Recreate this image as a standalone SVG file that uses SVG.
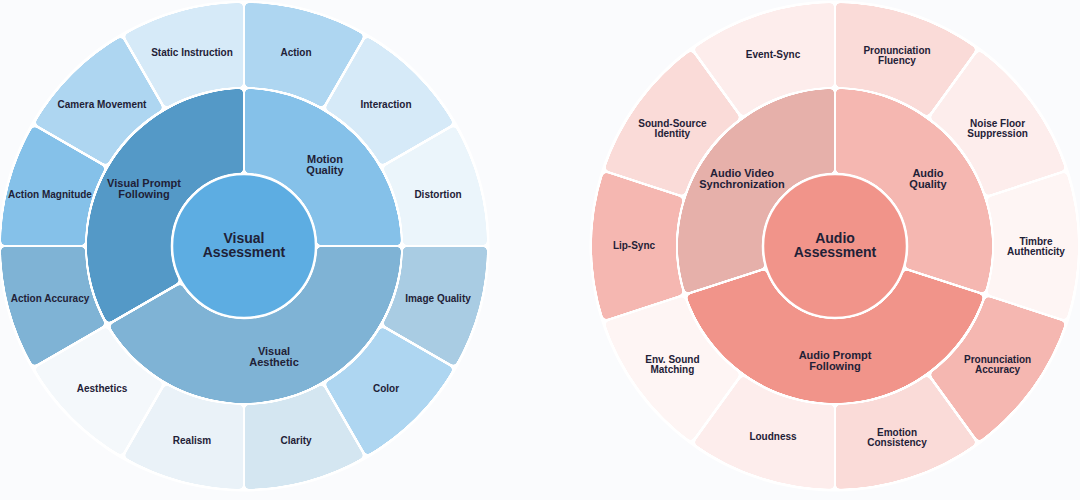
<svg xmlns="http://www.w3.org/2000/svg" width="1080" height="500" viewBox="0 0 1080 500">
<defs>
<filter id="rc" x="-10%" y="-10%" width="120%" height="120%" color-interpolation-filters="sRGB">
  <feMorphology in="SourceAlpha" operator="erode" radius="1.2" result="e"/>
  <feGaussianBlur in="e" stdDeviation="2.2" result="b"/>
  <feComponentTransfer in="b" result="t"><feFuncA type="linear" slope="12" intercept="-5.5"/></feComponentTransfer>
  <feComposite in="SourceGraphic" in2="t" operator="in"/>
</filter>
</defs>
<style>
.seg{filter:url(#rc)}
.disc{stroke:#ffffff;stroke-width:2.5}
text{font-family:"Liberation Sans",Arial,sans-serif;font-weight:bold;fill:#1f2137;text-anchor:middle;dominant-baseline:central}
.o{font-size:10px}
.m{font-size:11px}
.c{font-size:14px}
</style>
<rect x="0" y="0" width="1080" height="500" fill="#fafbfd"/>
<circle cx="244" cy="246" r="245.5" fill="#ffffff"/>
<circle cx="835" cy="246" r="245.5" fill="#ffffff"/>

<!-- LEFT: Visual Assessment -->
<g id="visual-assessment-chart">
  <g id="motion-quality">
    <path class="seg" fill="#85c1e9" d="M244,88 A158,158 0 0 1 402,246 L316,246 A72,72 0 0 0 244,174 Z"/>
    <text class="m"><tspan x="325" y="159">Motion</tspan><tspan x="325" y="170">Quality</tspan></text>
  </g>
  <g id="visual-aesthetic">
    <path class="seg" fill="#7fb3d5" d="M402,246 A158,158 0 0 1 107.17,325 L181.65,282 A72,72 0 0 0 316,246 Z"/>
    <text class="m"><tspan x="274" y="351">Visual</tspan><tspan x="274" y="362">Aesthetic</tspan></text>
  </g>
  <g id="visual-prompt-following">
    <path class="seg" fill="#5499c7" d="M107.17,325 A158,158 0 0 1 244,88 L244,174 A72,72 0 0 0 181.65,282 Z"/>
    <text class="m"><tspan x="144" y="183">Visual Prompt</tspan><tspan x="144" y="194">Following</tspan></text>
  </g>
  <g id="action">
    <path class="seg" fill="#aed6f1" d="M244,2 A244,244 0 0 1 366,34.69 L323,109.17 A158,158 0 0 0 244,88 Z"/>
    <text class="o" x="296" y="52">Action</text>
  </g>
  <g id="interaction">
    <path class="seg" fill="#d6eaf8" d="M366,34.69 A244,244 0 0 1 455.31,124 L380.83,167 A158,158 0 0 0 323,109.17 Z"/>
    <text class="o" x="386" y="104">Interaction</text>
  </g>
  <g id="distortion">
    <path class="seg" fill="#ebf5fb" d="M455.31,124 A244,244 0 0 1 488,246 L402,246 A158,158 0 0 0 380.83,167 Z"/>
    <text class="o" x="438" y="194">Distortion</text>
  </g>
  <g id="image-quality">
    <path class="seg" fill="#a9cce3" d="M488,246 A244,244 0 0 1 455.31,368 L380.83,325 A158,158 0 0 0 402,246 Z"/>
    <text class="o" x="438" y="298">Image Quality</text>
  </g>
  <g id="color">
    <path class="seg" fill="#aed6f1" d="M455.31,368 A244,244 0 0 1 366,457.31 L323,382.83 A158,158 0 0 0 380.83,325 Z"/>
    <text class="o" x="386" y="388">Color</text>
  </g>
  <g id="clarity">
    <path class="seg" fill="#d4e6f1" d="M366,457.31 A244,244 0 0 1 244,490 L244,404 A158,158 0 0 0 323,382.83 Z"/>
    <text class="o" x="296" y="440">Clarity</text>
  </g>
  <g id="realism">
    <path class="seg" fill="#eaf2f8" d="M244,490 A244,244 0 0 1 122,457.31 L165,382.83 A158,158 0 0 0 244,404 Z"/>
    <text class="o" x="192" y="440">Realism</text>
  </g>
  <g id="aesthetics">
    <path class="seg" fill="#f4f8fb" d="M122,457.31 A244,244 0 0 1 32.69,368 L107.17,325 A158,158 0 0 0 165,382.83 Z"/>
    <text class="o" x="102" y="388">Aesthetics</text>
  </g>
  <g id="action-accuracy">
    <path class="seg" fill="#7fb3d5" d="M32.69,368 A244,244 0 0 1 0,246 L86,246 A158,158 0 0 0 107.17,325 Z"/>
    <text class="o" x="50" y="298">Action Accuracy</text>
  </g>
  <g id="action-magnitude">
    <path class="seg" fill="#85c1e9" d="M0,246 A244,244 0 0 1 32.69,124 L107.17,167 A158,158 0 0 0 86,246 Z"/>
    <text class="o" x="50" y="194">Action Magnitude</text>
  </g>
  <g id="camera-movement">
    <path class="seg" fill="#aed6f1" d="M32.69,124 A244,244 0 0 1 122,34.69 L165,109.17 A158,158 0 0 0 107.17,167 Z"/>
    <text class="o" x="102" y="104">Camera Movement</text>
  </g>
  <g id="static-instruction">
    <path class="seg" fill="#d6eaf8" d="M122,34.69 A244,244 0 0 1 244,2 L244,88 A158,158 0 0 0 165,109.17 Z"/>
    <text class="o" x="192" y="52">Static Instruction</text>
  </g>
  <g id="visual-assessment">
    <circle class="disc" cx="244" cy="246" r="72" fill="#5dade2"/>
    <text class="c"><tspan x="244" y="238">Visual</tspan><tspan x="244" y="252">Assessment</tspan></text>
  </g>
</g>

<!-- RIGHT: Audio Assessment -->
<g id="audio-assessment-chart">
  <g id="audio-quality">
    <path class="seg" fill="#f5b7b1" d="M835,88 A158,158 0 0 1 985.27,294.82 L903.48,268.25 A72,72 0 0 0 835,174 Z"/>
    <text class="m"><tspan x="928" y="173">Audio</tspan><tspan x="928" y="184">Quality</tspan></text>
  </g>
  <g id="audio-prompt-following">
    <path class="seg" fill="#f1948a" d="M985.27,294.82 A158,158 0 0 1 684.73,294.82 L766.52,268.25 A72,72 0 0 0 903.48,268.25 Z"/>
    <text class="m"><tspan x="835" y="355">Audio Prompt</tspan><tspan x="835" y="366">Following</tspan></text>
  </g>
  <g id="audio-video-synchronization">
    <path class="seg" fill="#e6b0aa" d="M684.73,294.82 A158,158 0 0 1 835,88 L835,174 A72,72 0 0 0 766.52,268.25 Z"/>
    <text class="m"><tspan x="742" y="173">Audio Video</tspan><tspan x="742" y="184">Synchronization</tspan></text>
  </g>
  <g id="pronunciation-fluency">
    <path class="seg" fill="#fadbd8" d="M835,2 A244,244 0 0 1 978.42,48.6 L927.87,118.18 A158,158 0 0 0 835,88 Z"/>
    <text class="o"><tspan x="897" y="49.5">Pronunciation</tspan><tspan x="897" y="59.5">Fluency</tspan></text>
  </g>
  <g id="noise-floor-suppression">
    <path class="seg" fill="#fdedec" d="M978.42,48.6 A244,244 0 0 1 1067.07,170.6 L985.27,197.18 A158,158 0 0 0 927.87,118.18 Z"/>
    <text class="o"><tspan x="997.6" y="122.5">Noise Floor</tspan><tspan x="997.6" y="132.5">Suppression</tspan></text>
  </g>
  <g id="timbre-authenticity">
    <path class="seg" fill="#fef5f4" d="M1067.07,170.6 A244,244 0 0 1 1067.07,321.4 L985.27,294.82 A158,158 0 0 0 985.27,197.18 Z"/>
    <text class="o"><tspan x="1036" y="240.5">Timbre</tspan><tspan x="1036" y="250.5">Authenticity</tspan></text>
  </g>
  <g id="pronunciation-accuracy">
    <path class="seg" fill="#f5b7b1" d="M1067.07,321.4 A244,244 0 0 1 978.42,443.4 L927.87,373.82 A158,158 0 0 0 985.27,294.82 Z"/>
    <text class="o"><tspan x="997.6" y="358.5">Pronunciation</tspan><tspan x="997.6" y="368.5">Accuracy</tspan></text>
  </g>
  <g id="emotion-consistency">
    <path class="seg" fill="#fadbd8" d="M978.42,443.4 A244,244 0 0 1 835,490 L835,404 A158,158 0 0 0 927.87,373.82 Z"/>
    <text class="o"><tspan x="897" y="432">Emotion</tspan><tspan x="897" y="442">Consistency</tspan></text>
  </g>
  <g id="loudness">
    <path class="seg" fill="#fdedec" d="M835,490 A244,244 0 0 1 691.58,443.4 L742.13,373.82 A158,158 0 0 0 835,404 Z"/>
    <text class="o" x="773" y="436.5">Loudness</text>
  </g>
  <g id="env-sound-matching">
    <path class="seg" fill="#fef5f4" d="M691.58,443.4 A244,244 0 0 1 602.93,321.4 L684.73,294.82 A158,158 0 0 0 742.13,373.82 Z"/>
    <text class="o"><tspan x="672.4" y="358.5">Env. Sound</tspan><tspan x="672.4" y="368.5">Matching</tspan></text>
  </g>
  <g id="lip-sync">
    <path class="seg" fill="#f5b7b1" d="M602.93,321.4 A244,244 0 0 1 602.93,170.6 L684.73,197.18 A158,158 0 0 0 684.73,294.82 Z"/>
    <text class="o" x="634" y="245.5">Lip-Sync</text>
  </g>
  <g id="sound-source-identity">
    <path class="seg" fill="#fadbd8" d="M602.93,170.6 A244,244 0 0 1 691.58,48.6 L742.13,118.18 A158,158 0 0 0 684.73,197.18 Z"/>
    <text class="o"><tspan x="672.4" y="122.5">Sound-Source</tspan><tspan x="672.4" y="132.5">Identity</tspan></text>
  </g>
  <g id="event-sync">
    <path class="seg" fill="#fdedec" d="M691.58,48.6 A244,244 0 0 1 835,2 L835,88 A158,158 0 0 0 742.13,118.18 Z"/>
    <text class="o" x="773" y="54">Event-Sync</text>
  </g>
  <g id="audio-assessment">
    <circle class="disc" cx="835" cy="246" r="72" fill="#f1948a"/>
    <text class="c"><tspan x="835" y="238">Audio</tspan><tspan x="835" y="252">Assessment</tspan></text>
  </g>
</g>
</svg>
